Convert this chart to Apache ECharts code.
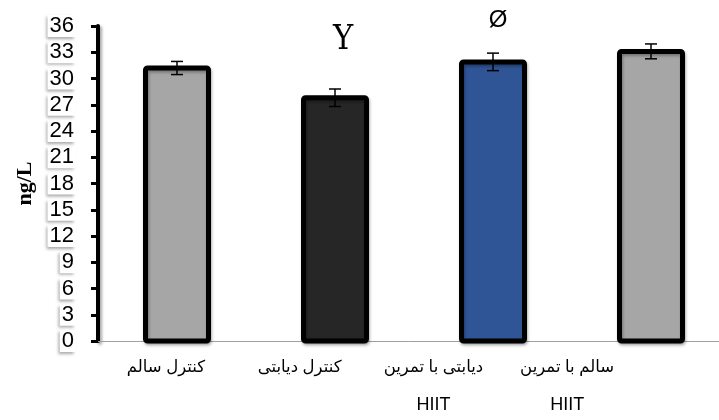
<!DOCTYPE html>
<html>
<head>
<meta charset="utf-8">
<script src="https://cdn.jsdelivr.net/npm/echarts@6/dist/echarts.min.js"></script>
<style>
  html, body { margin: 0; padding: 0; background: #fff; }
  #chart { width: 719px; height: 420px; }
</style>
</head>
<body>
<div id="chart"></div>
<script>
const categories = ['کنترل سالم', 'کنترل دیابتی', 'دیابتی با تمرین\nHIIT', 'سالم با تمرین\nHIIT'];
const values = [31.2, 27.8, 31.9, 33.1];
const errors = [0.75, 1.0, 1.0, 0.85];
const marks = ['', 'Y', 'Ø', ''];
const colors = ['#a6a6a6', '#262626', '#2f5597', '#a6a6a6'];
const markGap = [0, 41, 30, 0];
const markShift = [0, 8, 5, 0];

const chart = echarts.init(document.getElementById('chart'));

// bars drawn as custom rects so the black outline is centred on the value
function renderBar(params, api) {
  const i = params.dataIndex;
  const top = api.coord([api.value(0), api.value(1)]);
  const base = api.coord([api.value(0), 0]);
  const w = 63;
  const children = [{
    type: 'rect',
    shape: { x: top[0] - w / 2, y: top[1], width: w, height: base[1] - top[1], r: 2 },
    style: {
      fill: colors[i], stroke: '#000', lineWidth: 5, lineJoin: 'round',
      shadowColor: 'rgba(0,0,0,0.3)', shadowBlur: 3, shadowOffsetX: 1, shadowOffsetY: 2
    }
  }];
  if (marks[i]) {
    children.push({
      type: 'text',
      style: {
        text: marks[i],
        x: top[0] + markShift[i],
        y: top[1] - markGap[i],
        align: 'center',
        verticalAlign: 'bottom',
        fill: '#000',
        fontSize: i === 1 ? 34 : 24,
        fontFamily: i === 1 ? 'DejaVu Serif Condensed, Liberation Serif, serif' : 'Liberation Sans, sans-serif'
      }
    });
  }
  return { type: 'group', children };
}

function renderError(params, api) {
  const lo = api.coord([api.value(0), api.value(1)]);
  const hi = api.coord([api.value(0), api.value(2)]);
  const w = 6;
  const style = { stroke: '#000', lineWidth: 1.5 };
  return {
    type: 'group',
    children: [
      { type: 'line', shape: { x1: lo[0], y1: lo[1], x2: hi[0], y2: hi[1] }, style },
      { type: 'line', shape: { x1: hi[0] - w, y1: hi[1], x2: hi[0] + w, y2: hi[1] }, style },
      { type: 'line', shape: { x1: lo[0] - w, y1: lo[1], x2: lo[0] + w, y2: lo[1] }, style }
    ]
  };
}

const hidden = { show: false };

chart.setOption({
  animation: false,
  grid: [
    { left: 98, top: 26, width: 632, bottom: 79, outerBoundsMode: 'none', containLabel: false },
    // category labels sit on a narrower band than the bars in the original
    { left: 99, top: 26, width: 535, bottom: 79, outerBoundsMode: 'none', containLabel: false }
  ],
  xAxis: [
    {
      type: 'category',
      data: categories,
      axisLine: { lineStyle: { color: '#a0a0a0', width: 1 } },
      axisTick: hidden,
      axisLabel: hidden
    },
    {
      type: 'category',
      gridIndex: 1,
      data: categories,
      axisLine: hidden,
      axisTick: hidden,
      axisLabel: {
        margin: 7,
        color: '#000',
        formatter: v => v.split('\n').map((s, k) => (k === 0 ? '{ar|' : '{en|') + s + '}').join('\n'),
        rich: {
          ar: { fontSize: 16.5, lineHeight: 38, color: '#000', fontFamily: 'Liberation Sans, DejaVu Sans, sans-serif' },
          en: { fontSize: 18, lineHeight: 38, color: '#000', fontFamily: 'Liberation Sans, sans-serif' }
        }
      }
    }
  ],
  yAxis: [
    {
      type: 'value',
      min: 0,
      max: 36,
      interval: 3,
      name: 'ng/L',
      nameLocation: 'middle',
      nameGap: 60,
      nameTextStyle: {
        color: '#000',
        fontSize: 22,
        fontWeight: 'bold',
        fontFamily: 'Liberation Serif, serif'
      },
      splitLine: hidden,
      axisLine: { show: true, lineStyle: { color: '#000', width: 4, shadowColor: 'rgba(0,0,0,0.35)', shadowBlur: 3, shadowOffsetX: 2, shadowOffsetY: 2 } },
      axisTick: { show: true, length: 7, lineStyle: { color: '#000', width: 3 } },
      axisLabel: {
        margin: 22,
        color: '#000',
        fontSize: 22,
        fontFamily: 'Liberation Sans, sans-serif',
        backgroundColor: '#fff',
        padding: [0, 2, 0, 2],
        shadowColor: 'rgba(0,0,0,0.35)',
        shadowBlur: 3,
        shadowOffsetX: -2,
        shadowOffsetY: 2
      }
    },
    { type: 'value', gridIndex: 1, min: 0, max: 36, show: false }
  ],
  series: [
    {
      type: 'custom',
      data: values.map((v, i) => [i, v]),
      renderItem: renderBar,
      clip: false
    },
    {
      type: 'custom',
      data: values.map((v, i) => [i, v - errors[i], v + errors[i]]),
      renderItem: renderError,
      z: 10
    }
  ]
});
</script>
</body>
</html>
